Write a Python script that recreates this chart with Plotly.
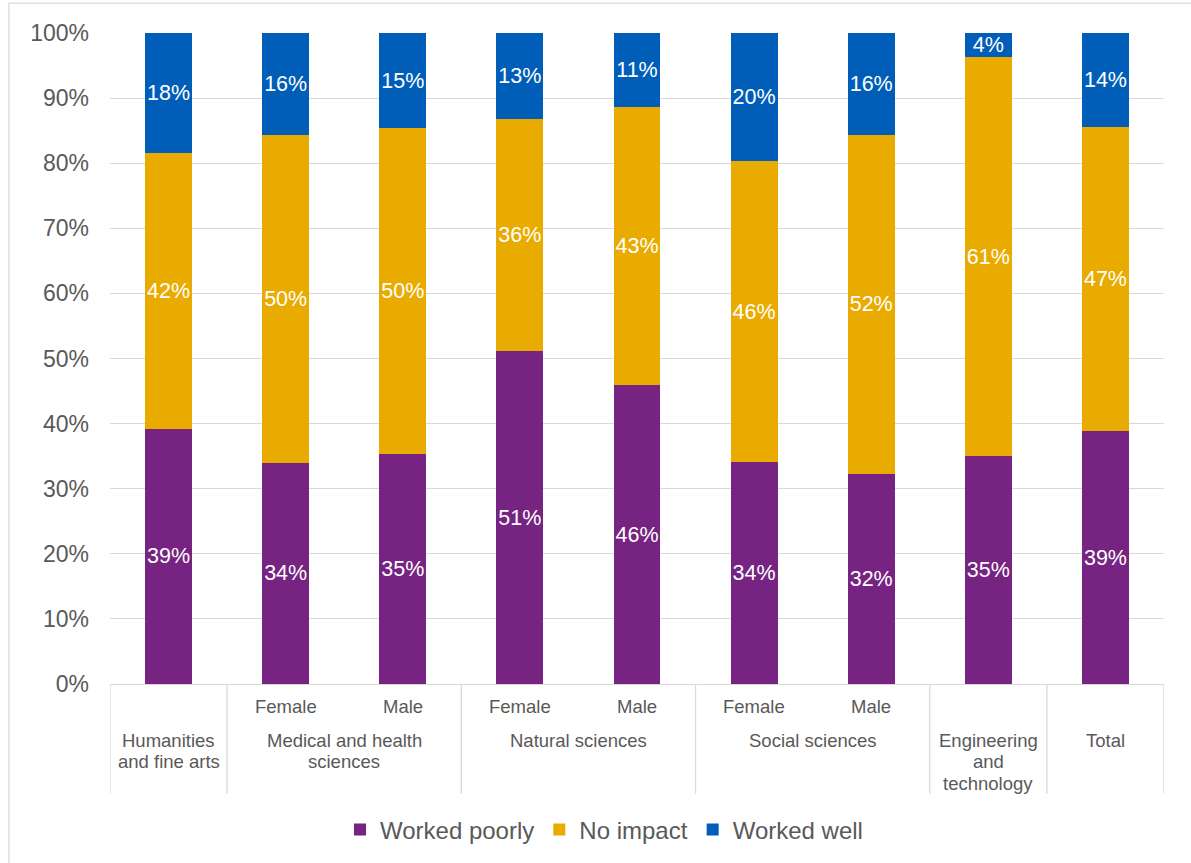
import plotly.graph_objects as go

# Sub-category labels under each bar (blank where a field has no split)
sub_labels = ["", "Female", "Male", "Female", "Male", "Female", "Male", "", ""]

# Field groups: text lines, first bar index, last bar index
groups = [
    (["Humanities", "and fine arts"], 0, 0),
    (["Medical and health", "sciences"], 1, 2),
    (["Natural sciences"], 3, 4),
    (["Social sciences"], 5, 6),
    (["Engineering", "and", "technology"], 7, 7),
    (["Total"], 8, 8),
]

# Shares (%) per bar
worked_poorly = [39.2, 34.0, 35.4, 51.1, 45.9, 34.1, 32.2, 35.0, 38.8]
no_impact = [42.4, 50.3, 50.0, 35.7, 42.7, 46.2, 52.2, 61.3, 46.8]
worked_well = [18.4, 15.7, 14.6, 13.2, 11.4, 19.7, 15.6, 3.7, 14.4]

series = [
    ("Worked poorly", worked_poorly, "#762382"),
    ("No impact", no_impact, "#EAAB00"),
    ("Worked well", worked_well, "#005EB8"),
]

y_ticks = list(range(0, 101, 10))
y_tick_text = [f"{v}%" for v in y_ticks]

x = list(range(len(sub_labels)))
FONT = "Liberation Sans, Arial, sans-serif"
GRAY = "#595959"
LINE = "#d9d9d9"

fig = go.Figure()
for name, vals, color in series:
    fig.add_trace(go.Bar(
        x=x, y=vals, name=name,
        marker=dict(color=color, line=dict(width=0)),
        texttemplate="%{y:.0f}%",
        textposition="inside",
        insidetextanchor="middle",
        textangle=0,
        textfont=dict(color="white", size=21.5, family=FONT),
        hovertemplate=name + ": %{y:.1f}%<extra></extra>",
    ))

# Plot-area geometry (px)
L, R, T, B = 110, 27, 33, 178
W, H = 1191, 863
plot_h = H - T - B
plot_w = W - L - R

annotations = []
# Female / Male row
for xi, lab in zip(x, sub_labels):
    if lab:
        annotations.append(dict(
            x=xi, y=0, xref="x", yref="paper", text=lab, showarrow=False,
            yanchor="middle", yshift=-22, font=dict(size=18.5, color=GRAY, family=FONT)))
# Group rows, one annotation per line
for lines, a, b in groups:
    for k, line in enumerate(lines):
        annotations.append(dict(
            x=(a + b) / 2, y=0, xref="x", yref="paper", text=line, showarrow=False,
            yanchor="middle", yshift=-(56 + 21.5 * k),
            font=dict(size=18.5, color=GRAY, family=FONT)))

# Divider lines of the category axis
line_bottom = -(795 - (H - B)) / plot_h
bounds = [g[1] - 0.5 for g in groups] + [groups[-1][2] + 0.5]
shapes = [dict(type="line", xref="x", yref="paper", x0=bx, x1=bx, y0=0, y1=line_bottom,
               line=dict(color=LINE, width=1.3)) for bx in bounds]

# Chart frame
shapes.append(dict(
    type="rect", xref="paper", yref="paper", layer="below",
    x0=(9 - L) / plot_w, x1=(W + 5 - L) / plot_w,
    y0=-(H + 5 - (H - B)) / plot_h, y1=((H - B) - 3) / plot_h,
    line=dict(color=LINE, width=1.3), fillcolor="rgba(0,0,0,0)"))

fig.update_layout(
    width=W, height=H,
    margin=dict(l=L, r=R, t=T, b=B, pad=0),
    barmode="stack", bargap=0.6,
    plot_bgcolor="white", paper_bgcolor="white",
    font=dict(family=FONT, color=GRAY),
    uniformtext=dict(minsize=21.5, mode="show"),
    showlegend=True,
    legend=dict(
        orientation="h", traceorder="normal",
        x=(604 - L) / plot_w, xanchor="center",
        y=-(830 - (H - B)) / plot_h, yanchor="middle",
        font=dict(size=24, color=GRAY, family=FONT),
        itemclick=False, itemdoubleclick=False,
    ),
    xaxis=dict(
        range=[-0.5, len(x) - 0.5], showticklabels=False, showgrid=False,
        zeroline=False, showline=True, linecolor=LINE, linewidth=1.3, ticks="",
        fixedrange=True,
    ),
    yaxis=dict(
        range=[0, 100], tickmode="array", tickvals=y_ticks, ticktext=y_tick_text,
        showgrid=True, gridcolor=LINE, gridwidth=1.3, zeroline=False,
        showline=False, ticks="", ticklabelstandoff=20,
        tickfont=dict(size=23, color=GRAY, family=FONT), fixedrange=True,
    ),
    annotations=annotations,
    shapes=shapes,
)

fig.write_html("out.html")
